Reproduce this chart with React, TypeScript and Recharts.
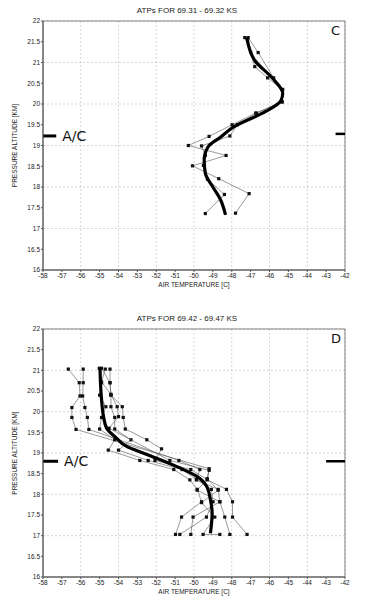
import { ReferenceArea, ReferenceLine, Scatter, ScatterChart, CartesianGrid, XAxis, YAxis } from "recharts";

type Pt = { t: number; alt: number };

const tempTicks = [-58, -57, -56, -55, -54, -53, -52, -51, -50, -49, -48, -47, -46, -45, -44, -43, -42];
const altTicks = [16, 16.5, 17, 17.5, 18, 18.5, 19, 19.5, 20, 20.5, 21, 21.5, 22];

// panel C
const cProfileA: Pt[] = [
  { t: -47.31, alt: 21.6 }, { t: -47.0, alt: 21.25 }, { t: -46.78, alt: 20.9 }, { t: -46.1, alt: 20.63 },
  { t: -45.32, alt: 20.35 }, { t: -45.32, alt: 20.05 }, { t: -46.73, alt: 19.78 }, { t: -47.98, alt: 19.5 },
  { t: -49.2, alt: 19.22 }, { t: -50.3, alt: 19.0 }, { t: -48.3, alt: 18.76 }, { t: -50.08, alt: 18.51 },
  { t: -48.69, alt: 18.2 }, { t: -47.08, alt: 17.84 }, { t: -47.8, alt: 17.37 },
];
const cProfileB: Pt[] = [
  { t: -47.13, alt: 21.6 }, { t: -46.6, alt: 21.24 }, { t: -45.78, alt: 20.63 }, { t: -45.3, alt: 20.35 },
  { t: -45.35, alt: 20.05 }, { t: -46.7, alt: 19.78 }, { t: -47.7, alt: 19.5 }, { t: -48.1, alt: 19.23 },
  { t: -49.6, alt: 18.99 }, { t: -49.4, alt: 18.76 }, { t: -49.5, alt: 18.52 }, { t: -49.29, alt: 18.19 },
  { t: -48.39, alt: 17.82 }, { t: -49.4, alt: 17.36 },
];
const cFit: Pt[] = [
  { t: -47.2, alt: 21.6 }, { t: -46.8, alt: 21.06 }, { t: -45.8, alt: 20.6 }, { t: -45.3, alt: 20.26 },
  { t: -45.4, alt: 20.08 }, { t: -46.2, alt: 19.82 }, { t: -47.9, alt: 19.45 }, { t: -48.6, alt: 19.2 },
  { t: -49.25, alt: 18.97 }, { t: -49.46, alt: 18.65 }, { t: -49.4, alt: 18.33 }, { t: -49.0, alt: 18.0 },
  { t: -48.6, alt: 17.7 }, { t: -48.33, alt: 17.33 },
];

// panel D
const dProfile1: Pt[] = [
  { t: -56.66, alt: 21.03 }, { t: -56.08, alt: 20.7 }, { t: -56.04, alt: 20.38 }, { t: -56.47, alt: 20.1 },
  { t: -56.47, alt: 19.86 }, { t: -56.25, alt: 19.57 }, { t: -49.2, alt: 18.62 }, { t: -49.3, alt: 18.35 },
  { t: -48.28, alt: 18.12 }, { t: -47.96, alt: 17.82 }, { t: -47.96, alt: 17.45 }, { t: -47.19, alt: 17.03 },
];
const dProfile2: Pt[] = [
  { t: -55.87, alt: 21.03 }, { t: -55.87, alt: 20.7 }, { t: -55.9, alt: 20.38 }, { t: -55.78, alt: 20.1 },
  { t: -55.65, alt: 19.86 }, { t: -55.57, alt: 19.57 }, { t: -50.8, alt: 18.82 }, { t: -49.69, alt: 18.6 },
  { t: -49.87, alt: 18.35 }, { t: -48.72, alt: 18.12 }, { t: -48.63, alt: 17.82 }, { t: -48.37, alt: 17.45 },
  { t: -48.1, alt: 17.03 },
];
const dProfile3: Pt[] = [
  { t: -55.02, alt: 21.05 }, { t: -54.9, alt: 20.7 }, { t: -55.0, alt: 20.4 }, { t: -54.67, alt: 20.12 },
  { t: -54.9, alt: 19.86 }, { t: -55.0, alt: 19.58 }, { t: -54.2, alt: 19.32 }, { t: -54.54, alt: 19.07 },
  { t: -52.87, alt: 18.82 }, { t: -51.07, alt: 18.6 }, { t: -50.22, alt: 18.35 }, { t: -49.83, alt: 18.12 },
  { t: -49.6, alt: 17.82 }, { t: -50.66, alt: 17.45 }, { t: -50.98, alt: 17.03 },
];
const dProfile4: Pt[] = [
  { t: -54.9, alt: 21.05 }, { t: -54.45, alt: 20.7 }, { t: -54.4, alt: 20.4 }, { t: -54.4, alt: 20.12 },
  { t: -54.2, alt: 19.86 }, { t: -54.2, alt: 19.58 }, { t: -53.34, alt: 19.32 }, { t: -54.0, alt: 19.07 },
  { t: -52.43, alt: 18.82 }, { t: -50.63, alt: 18.6 }, { t: -49.87, alt: 18.36 }, { t: -49.08, alt: 18.12 },
  { t: -48.99, alt: 17.82 }, { t: -49.34, alt: 17.45 }, { t: -50.75, alt: 17.03 },
];
const dProfile5: Pt[] = [
  { t: -54.45, alt: 21.03 }, { t: -54.45, alt: 20.7 }, { t: -54.4, alt: 20.4 }, { t: -53.8, alt: 20.12 },
  { t: -53.75, alt: 19.86 }, { t: -53.64, alt: 19.58 }, { t: -52.5, alt: 19.32 }, { t: -51.72, alt: 19.1 },
  { t: -52.07, alt: 18.82 }, { t: -50.17, alt: 18.6 }, { t: -49.3, alt: 18.36 }, { t: -49.83, alt: 18.1 },
  { t: -48.63, alt: 17.82 }, { t: -50.05, alt: 17.45 }, { t: -50.17, alt: 17.03 },
];
const dProfile6: Pt[] = [
  { t: -54.7, alt: 21.03 }, { t: -54.9, alt: 20.72 }, { t: -54.4, alt: 20.42 }, { t: -54.07, alt: 20.12 },
  { t: -54.0, alt: 19.88 }, { t: -54.5, alt: 19.6 }, { t: -51.28, alt: 18.82 }, { t: -49.2, alt: 18.58 },
  { t: -49.3, alt: 18.38 }, { t: -48.72, alt: 18.1 }, { t: -49.6, alt: 17.8 }, { t: -48.9, alt: 17.45 },
  { t: -49.52, alt: 17.03 }, { t: -48.63, alt: 17.03 },
];
const dFit: Pt[] = [
  { t: -54.98, alt: 21.05 }, { t: -54.9, alt: 20.3 }, { t: -54.8, alt: 19.9 }, { t: -54.63, alt: 19.6 },
  { t: -54.2, alt: 19.4 }, { t: -53.57, alt: 19.16 }, { t: -52.7, alt: 19.0 }, { t: -51.8, alt: 18.84 },
  { t: -50.75, alt: 18.64 }, { t: -49.87, alt: 18.44 }, { t: -49.34, alt: 18.2 }, { t: -49.13, alt: 17.87 },
  { t: -49.04, alt: 17.55 }, { t: -49.13, alt: 17.06 },
];

const font = "'Liberation Sans', Arial, sans-serif";

const Square = (props: any) => (
  <rect x={props.cx - 1.6} y={props.cy - 1.6} width={3.2} height={3.2} fill="#111" />
);
const NoDot = () => <g />;

function Panel({
  title, letter, profiles, fit, acAlt, leftEnd, rightStart, height, top, bottom,
}: {
  title: string; letter: string; profiles: Pt[][]; fit: Pt[]; acAlt: number; leftEnd: number; rightStart: number;
  height: number; top: number; bottom: number;
}) {
  return (
    <div style={{ position: "relative", width: 365, height }}>
      <div style={{ position: "absolute", top: top - 15, left: 0, width: 374, textAlign: "center", fontFamily: font, fontSize: 8, color: "#222" }}>
        {title}
      </div>
      <div style={{ position: "absolute", top: top + 2, left: 331, fontFamily: "'DejaVu Sans', sans-serif", fontSize: 13, color: "#111" }}>
        {letter}
      </div>
      <ScatterChart width={365} height={height} margin={{ top, right: 20, left: 0, bottom: 0 }}>
        <CartesianGrid stroke="#bbb" strokeDasharray="2 2" strokeWidth={0.6} />
        <XAxis
          type="number" dataKey="t" domain={[-58, -42]} ticks={tempTicks} allowDataOverflow
          height={bottom} tick={{ fontSize: 6.5, fill: "#222", fontFamily: font }} tickSize={2}
          stroke="#555" tickMargin={1}
          label={{ value: "AIR TEMPERATURE [C]", position: "insideTop", offset: 12, fontSize: 6.5, fill: "#222", fontFamily: font }}
        />
        <YAxis
          type="number" dataKey="alt" domain={[16, 22]} ticks={altTicks} allowDataOverflow
          width={43} tick={{ fontSize: 6.5, fill: "#222", fontFamily: font }} tickSize={2} stroke="#555" tickMargin={1}
          label={{ value: "PRESSURE ALTITUDE [KM]", angle: -90, position: "insideLeft", offset: 15, fontSize: 6.5, fill: "#222", fontFamily: font, style: { textAnchor: "middle" } }}
        />
        <ReferenceArea x1={-58} x2={-42} y1={16} y2={22} fill="none" stroke="#666" strokeWidth={0.8} />
        {profiles.map((p, i) => (
          <Scatter key={i} data={p} line={{ stroke: "#555", strokeWidth: 0.6 }} shape={Square} isAnimationActive={false} />
        ))}
        <Scatter data={fit} line={{ stroke: "#000", strokeWidth: 3.2 }} lineJointType="monotoneY" shape={NoDot} isAnimationActive={false} />
        <ReferenceLine
          segment={[{ x: -58, y: acAlt }, { x: leftEnd, y: acAlt }]} stroke="#000" strokeWidth={3}
          label={{ value: "A/C", position: "right", offset: 6, fontSize: 14, fill: "#111", fontFamily: "'DejaVu Sans', sans-serif" }}
        />
        <ReferenceLine segment={[{ x: rightStart, y: acAlt + (letter === "C" ? 0.05 : 0) }, { x: -42, y: acAlt + (letter === "C" ? 0.05 : 0) }]} stroke="#000" strokeWidth={2.5} />
      </ScatterChart>
    </div>
  );
}

export default function App() {
  return (
    <div style={{ position: "absolute", top: 0, left: 0, width: 365, height: 603, background: "#fff" }}>
      <Panel
        title="ATPs FOR 69.31 - 69.32 KS" letter="C" profiles={[cProfileA, cProfileB]} fit={cFit}
        acAlt={19.23} leftEnd={-57.3} rightStart={-42.5} height={300} top={21} bottom={30}
      />
      <Panel
        title="ATPs FOR 69.42 - 69.47 KS" letter="D"
        profiles={[dProfile1, dProfile2, dProfile3, dProfile4, dProfile5, dProfile6]} fit={dFit}
        acAlt={18.8} leftEnd={-57.2} rightStart={-43} height={303} top={29} bottom={26}
      />
    </div>
  );
}
